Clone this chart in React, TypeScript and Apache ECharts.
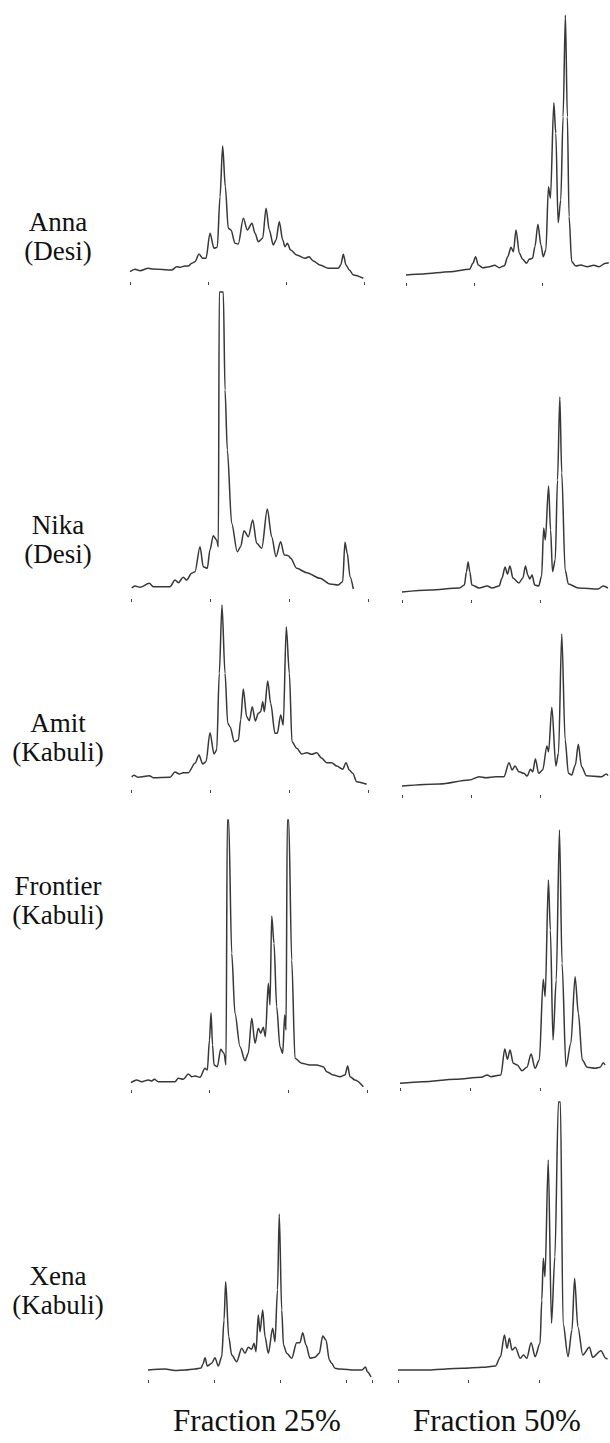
import React, { useEffect, useRef } from "react";
import * as echarts from "echarts";

const varieties = ["Anna", "Nika", "Amit", "Frontier", "Xena"];
const types = ["(Desi)", "(Desi)", "(Kabuli)", "(Kabuli)", "(Kabuli)"];
const fractions = ["Fraction 25%", "Fraction 50%"];

// [retention (tick every 10), detector response]
const anna25: number[][] = [
  [0, 10.3], [0.64, 12.7], [1.28, 11.3], [2.35, 13.7], [2.99, 13], [5.35, 12], [5.99, 15.3], [6.41, 14.7],
  [7.05, 16], [7.47, 16], [7.91, 18.7], [8.33, 20.3], [8.85, 28], [9.32, 23.7], [9.74, 23.7], [10.26, 48.7],
  [10.77, 33.7], [11.19, 34.7], [11.54, 85.3], [11.88, 136], [12.22, 95.3], [12.6, 53.7], [12.95, 52],
  [13.46, 38.7], [13.88, 38], [14.53, 63.7], [15.04, 52], [15.64, 58.7], [16.03, 48.7], [16.45, 40.3],
  [17.01, 43.7], [17.44, 73.7], [17.86, 52], [18.37, 37], [18.72, 42], [19.14, 60.3], [19.58, 42],
  [19.87, 35.3], [20.17, 38.7], [20.6, 32], [21.37, 27], [22.44, 23.7], [22.95, 25.3], [23.5, 21],
  [24.36, 17], [25.42, 13.7], [26.71, 13.7], [27.01, 17], [27.35, 27.7], [27.69, 17], [28.12, 12],
  [28.63, 7], [29.91, 3.7],
];
const anna50: number[][] = [
  [0, 8], [2.53, 9], [6.43, 11.3], [9.36, 13.7], [9.84, 19.7], [10.23, 26.3], [10.63, 18], [11.3, 15.3],
  [12.28, 16.3], [13.01, 17.7], [13.74, 15.3], [14.47, 17.3], [14.96, 26.3], [15.45, 35.7], [15.79, 31.3],
  [16.18, 53], [16.67, 29.7], [17.15, 23.7], [17.73, 19.7], [18.13, 23.7], [18.61, 24.7], [18.96, 36.3],
  [19.4, 58.7], [19.84, 38], [20.18, 26.3], [20.57, 33], [20.95, 96.3], [21.24, 84.7], [21.74, 180.3],
  [22.03, 149.7], [22.37, 60.3], [22.76, 83], [23.1, 166.3], [23.44, 268], [23.73, 166.3], [23.98, 66.3],
  [24.37, 21.3], [24.96, 17], [25.69, 18], [26.65, 16.3], [27.63, 17.7], [28.36, 16.3], [29.34, 19.7],
  [29.82, 20.3],
];
const nika25: number[][] = [
  [0, 11], [0.42, 13], [1.05, 11.7], [2.23, 15.7], [2.74, 12.3], [4.85, 12.3], [5.49, 19], [5.91, 16.3],
  [6.54, 21.7], [6.97, 19], [7.6, 25.7], [8.02, 27.3], [8.66, 52.3], [9.07, 32.3], [9.58, 30.7], [9.92, 49],
  [10.34, 63.3], [10.77, 59], [10.98, 52.3], [11.1, 307], [11.61, 307], [11.83, 209], [12.12, 149],
  [12.67, 75.7], [13.38, 47.3], [13.81, 52.3], [14.23, 68.3], [14.78, 62.3], [15.34, 79], [15.84, 55.7],
  [16.48, 50.7], [17.19, 90], [17.74, 62.3], [18.29, 42.3], [18.88, 57.3], [19.34, 44], [19.85, 43.3],
  [20.15, 40.7], [20.91, 30.7], [22.18, 26.3], [23.87, 20.7], [25.13, 15], [26.18, 14], [26.74, 17.3],
  [27.03, 56.7], [27.32, 45.7], [27.67, 22.3], [28.09, 10],
];
const nika50: number[][] = [
  [0, 8], [4, 10], [8.29, 12], [9, 15], [9.29, 28], [9.53, 38], [9.79, 28], [10.07, 15], [11.14, 12],
  [12.29, 14], [13, 12], [14, 14], [14.43, 22], [14.86, 33], [15.21, 26], [15.57, 34], [16, 22], [16.86, 17],
  [17.43, 22], [17.81, 34], [18.14, 25], [18.43, 21], [18.76, 25], [19.14, 15], [19.71, 14], [20.14, 24],
  [20.43, 72], [20.67, 60], [21.14, 114], [21.43, 70], [21.71, 28.3], [22.1, 40], [22.43, 120], [22.76, 203],
  [23.04, 127], [23.53, 30], [24, 16], [25.43, 12], [28.29, 11], [29, 14], [29.71, 12],
];
const amit25: number[][] = [
  [0, 13], [0.29, 14.7], [0.84, 12.7], [2.24, 14.3], [2.74, 12.3], [4.87, 12.7], [5.5, 18], [6.05, 16],
  [6.56, 17.3], [7.19, 17.3], [8.04, 26.7], [8.55, 35], [9.02, 26], [9.44, 28.3], [9.95, 57.3], [10.46, 36],
  [10.8, 40], [11.13, 116.7], [11.47, 185], [11.86, 116.7], [12.2, 66.7], [12.49, 63.3], [13.04, 48.3],
  [13.55, 50], [13.85, 70], [14.18, 101], [14.61, 73.3], [14.94, 69.3], [15.32, 83.3], [15.71, 69],
  [16.09, 76.7], [16.39, 78.3], [16.65, 88.3], [16.85, 78.3], [17.28, 109], [17.66, 86.7], [18.21, 56.7],
  [18.5, 56.7], [18.93, 75], [19.26, 65], [19.64, 163.3], [20.03, 116.7], [20.37, 48.3], [20.97, 41.7],
  [21.6, 36], [22.24, 37.3], [22.87, 35.7], [23.51, 37.3], [24.14, 31.7], [24.78, 27.3], [25.41, 27.3],
  [26.05, 24], [26.81, 20.7], [27.23, 27.3], [27.65, 20], [28.08, 16.7], [28.59, 8.3], [29.86, 5.7],
];
const amit50: number[][] = [
  [0, 9], [5.43, 11], [9.71, 15], [11.14, 18.3], [12.1, 17.3], [13.53, 18.3], [14.71, 18.3], [15.43, 32.3],
  [15.9, 25], [16.29, 29], [16.86, 23.3], [17.57, 21.7], [18.04, 19], [18.53, 25.7], [18.86, 23.3],
  [19.24, 36], [19.71, 21.7], [20.29, 25], [20.9, 49], [21.14, 43.3], [21.61, 87.7], [22.19, 29],
  [22.57, 41.7], [23.04, 161], [23.53, 55], [24, 21.7], [24.47, 20], [25, 30], [25.43, 50.7], [25.9, 28.3],
  [26.61, 19.3], [28.76, 18.3], [29.47, 21], [29.71, 19.3],
];
const frontier25: number[][] = [
  [0, 7.3], [0.72, 10], [1.36, 8.3], [2.2, 10], [2.63, 9], [2.96, 10.7], [3.47, 8.3], [5.59, 8.3],
  [6.01, 11.7], [6.65, 10.7], [7.28, 16], [7.71, 13.3], [8.13, 14], [8.77, 12.7], [9.4, 21.7], [9.7, 20],
  [9.97, 50], [10.17, 77.3], [10.36, 45], [10.55, 25], [10.97, 23.3], [11.4, 40.7], [11.82, 36.7],
  [12.07, 25], [12.24, 270], [12.41, 270], [12.8, 136.7], [13.21, 76.7], [13.85, 43.3], [14.49, 29.3],
  [14.9, 36.7], [15.34, 71.7], [15.76, 46.7], [16.18, 61.7], [16.48, 56.7], [16.81, 62.7], [17.07, 53.3],
  [17.45, 106.7], [17.66, 85], [17.88, 174], [18.17, 146.7], [18.51, 83.3], [18.93, 43.3], [19.28, 36.7],
  [19.53, 75], [19.7, 60], [19.86, 270], [20.04, 270], [20.42, 130], [20.84, 31.7], [21.69, 26.7],
  [22.74, 25], [23.6, 25], [24.43, 23.3], [24.87, 18.3], [25.71, 15], [26.56, 13.3], [27.19, 15],
  [27.53, 24], [27.83, 13.3], [28.46, 10], [29.52, 3.3],
];
const frontier50: number[][] = [
  [0, 4.7], [3.25, 6.3], [7.91, 8.7], [11.62, 10.7], [12.45, 13], [13.01, 11.3], [14.41, 13], [14.97, 39],
  [15.34, 28.7], [15.72, 38], [16.18, 24.7], [16.74, 23], [17.43, 17.3], [18.13, 20.7], [18.73, 34],
  [19.29, 19.7], [19.9, 28], [20.46, 108.7], [20.74, 91.3], [21.2, 208], [21.48, 158], [21.86, 48],
  [22.32, 108], [22.78, 258], [23.15, 124.7], [23.71, 21.3], [24.41, 44.7], [25.01, 111.3], [25.48, 74.7],
  [26.04, 28], [26.74, 20.7], [27.89, 19.7], [28.59, 20.7], [29.05, 25.3], [29.29, 23],
];
const xena25: number[][] = [
  [0, 10], [2.58, 11], [4.09, 9.5], [5.61, 10], [7.12, 11], [8.03, 12], [8.33, 16], [8.64, 22.3], [8.98, 14],
  [9.65, 16.7], [10.15, 22.3], [10.65, 14], [11.17, 23.3], [11.52, 60], [11.77, 98.3], [12.23, 43.3],
  [12.68, 25], [13.44, 18.3], [14.2, 31.7], [14.7, 26.7], [15.2, 32.7], [15.71, 30.7], [16.06, 36.7],
  [16.36, 28.3], [16.71, 65], [16.97, 48.3], [17.38, 70], [17.73, 43.3], [18.23, 26.7], [18.89, 51.7],
  [19.24, 38.3], [19.62, 90], [19.89, 166], [20.26, 70], [20.53, 35], [21.02, 26.7], [21.77, 21.7],
  [22.53, 37.3], [23.03, 37.3], [23.44, 47.3], [23.94, 35], [24.55, 21.7], [25.3, 22.7], [25.95, 26.7],
  [26.47, 44], [26.97, 40], [27.47, 20], [27.83, 16.7], [28.33, 11.7], [29.09, 11], [31.36, 10],
  [32.42, 10], [32.95, 13], [33.26, 8], [33.79, 3],
];
const xena50: number[][] = [
  [0, 10], [3.54, 10], [9.13, 11.7], [11.93, 12.7], [13.8, 14], [14.5, 23.3], [15.06, 45], [15.43, 31.7],
  [15.76, 41.7], [16.13, 30], [16.6, 32.7], [17.3, 21.7], [17.76, 25], [18.22, 21.7], [18.84, 37.3],
  [19.4, 23.3], [20.1, 36.7], [20.35, 80], [20.56, 121.7], [20.8, 103.3], [21.26, 220], [21.72, 56.7],
  [22.2, 123.3], [22.7, 278], [22.98, 278], [23.36, 56.7], [24.06, 23.3], [24.62, 50], [24.99, 101.7],
  [25.45, 53.3], [26.15, 25], [27.09, 32.7], [27.55, 22.7], [28.71, 29.3], [29.41, 21.7], [29.65, 20.7],
];

const traces = [
  [anna25, anna50],
  [nika25, nika50],
  [amit25, amit50],
  [frontier25, frontier50],
  [xena25, xena50],
];

// layout: [x of first tick, px per 10 units, tick row y, top y, x max]
const layout = [
  [[130, 78, 282, 130, 30], [406, 68.4, 283, 10, 30]],
  [[131.7, 78.9, 599, 292, 30], [402, 70, 600, 390, 30]],
  [[131.7, 78.7, 790, 600, 30], [402, 70, 795, 620, 30]],
  [[131, 78.7, 1090, 820, 30], [400, 71.7, 1088, 825, 30]],
  [[148, 66, 1380, 1205, 34], [398, 71.5, 1380, 1102, 30]],
];
const labelY = [236, 539, 737, 900, 1290];

export default function App() {
  const ref = useRef<HTMLDivElement>(null);
  useEffect(() => {
    if (!ref.current) return;
    const chart = echarts.init(ref.current, null, { renderer: "svg" });
    const grid: any[] = [];
    const xAxis: any[] = [];
    const yAxis: any[] = [];
    const series: any[] = [];
    traces.forEach((row, r) => {
      row.forEach((data, c) => {
        const [x0, s, ty, top, xMax] = layout[r][c];
        const idx = grid.length;
        grid.push({ left: x0, top, width: (xMax * s) / 10, height: ty - top, containLabel: false });
        xAxis.push({
          type: "value", gridIndex: idx, min: 0, max: xMax, interval: 10,
          axisLine: { show: false },
          axisTick: { show: true, length: 3, lineStyle: { color: "#444", width: 1 } },
          axisLabel: { show: false }, splitLine: { show: false },
        });
        yAxis.push({ type: "value", gridIndex: idx, min: 0, max: ty - top, show: false, splitLine: { show: false } });
        series.push({
          type: "line", xAxisIndex: idx, yAxisIndex: idx, data, symbol: "none", showSymbol: false,
          smooth: 0.3, smoothMonotone: "x",
          clip: false, lineStyle: { color: "#383838", width: 1.5 }, silent: true,
        });
      });
    });
    const graphic: any[] = [];
    varieties.forEach((v, i) => {
      graphic.push({
        type: "text", x: 58, y: labelY[i],
        style: { text: v + "\n" + types[i], font: "27px 'Liberation Serif'", fill: "#111", align: "center", verticalAlign: "middle", lineHeight: 29 },
      });
    });
    fractions.forEach((f, i) => {
      graphic.push({
        type: "text", x: i === 0 ? 257 : 497, y: 1420,
        style: { text: f, font: "31px 'Liberation Serif'", fill: "#111", align: "center", verticalAlign: "middle" },
      });
    });
    chart.setOption({ animation: false, backgroundColor: "#fff", grid, xAxis, yAxis, series, graphic });
    return () => chart.dispose();
  }, []);
  return <div ref={ref} style={{ position: "absolute", left: 0, top: 0, width: 610, height: 1443 }} />;
}
